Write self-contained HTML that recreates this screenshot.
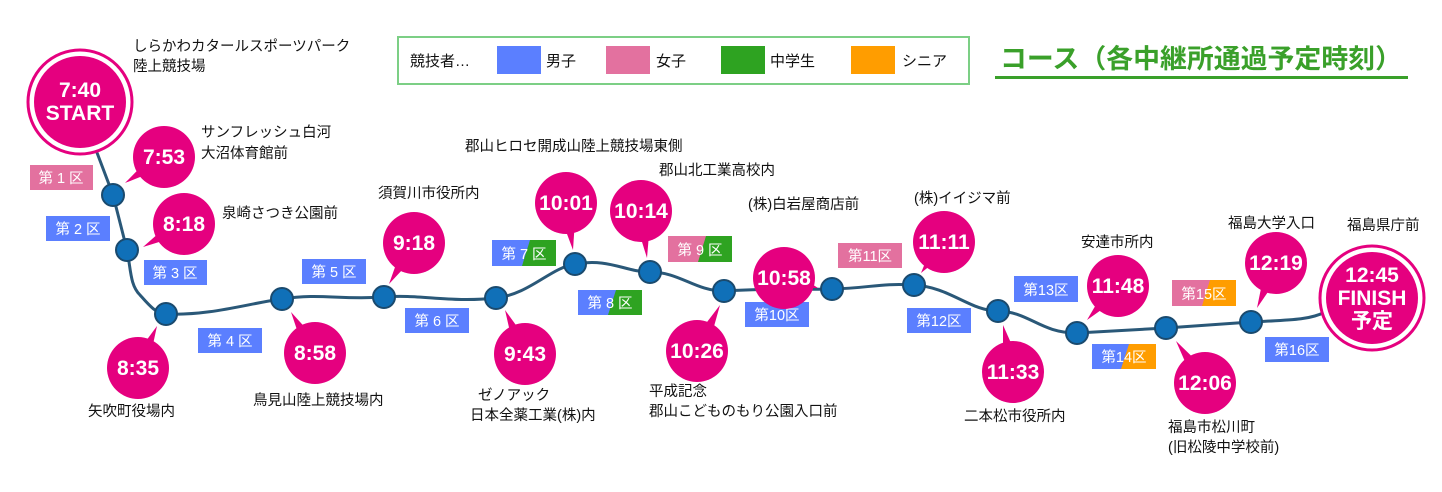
<!DOCTYPE html>
<html><head><meta charset="utf-8"><style>
html,body{margin:0;padding:0;background:#fff;}
svg{display:block;font-family:"Liberation Sans","Noto Sans CJK JP",sans-serif;}
.pl{font-size:14.5px;fill:#111;}
.bt{font-size:21px;font-weight:bold;fill:#fff;text-anchor:middle;}
.lt{font-size:14.5px;fill:#fff;text-anchor:middle;}
</style></head><body>
<svg width="1442" height="492" viewBox="0 0 1442 492" xmlns="http://www.w3.org/2000/svg">
<!-- legend -->
<rect x="398" y="37" width="571" height="47" fill="#fff" stroke="#7ccf85" stroke-width="2"/>
<text x="410" y="66" font-size="15" fill="#111">競技者…</text>
<rect x="497" y="46" width="44" height="28" fill="#5b7fff"/><text x="546" y="66" font-size="15" fill="#111">男子</text>
<rect x="606" y="46" width="44" height="28" fill="#e3719f"/><text x="656" y="66" font-size="15" fill="#111">女子</text>
<rect x="721" y="46" width="44" height="28" fill="#2ea321"/><text x="770" y="66" font-size="15" fill="#111">中学生</text>
<rect x="851" y="46" width="44" height="28" fill="#ff9d00"/><text x="902" y="66" font-size="15" fill="#111">シニア</text>
<text x="1000" y="68" font-size="26.5" font-weight="bold" fill="#3aa02a" textLength="402" lengthAdjust="spacingAndGlyphs">コース（各中継所通過予定時刻）</text>
<rect x="995" y="76" width="413" height="3" fill="#3aa02a"/>

<!-- route -->
<path d="M96,150 L113,195 L127,250 C131,270 130,285 140,295 C148,304 156,314 166,314 C210,316 250,303 282,299 C320,293 340,300 384,297 C420,294 450,303 496,298 C530,294 550,268 575,264 C610,258 625,272 650,272 C680,272 695,291 724,291 C770,288 790,290 832,289 C870,288 880,283 914,285 C950,287 970,311 998,311 C1030,312 1040,333 1077,333 L1166,328 L1251,322 C1290,320 1310,320 1325,312" fill="none" stroke="#2a5878" stroke-width="3"/>

<!-- section labels -->
<g>
<rect x="30" y="165" width="63" height="25" fill="#e3719f"/><text class="lt" x="61" y="183">第 1 区</text>
<rect x="46" y="216" width="64" height="25" fill="#5b7fff"/><text class="lt" x="78" y="234">第 2 区</text>
<rect x="144" y="260" width="63" height="25" fill="#5b7fff"/><text class="lt" x="175" y="278">第 3 区</text>
<rect x="198" y="328" width="64" height="25" fill="#5b7fff"/><text class="lt" x="230" y="346">第 4 区</text>
<rect x="302" y="259" width="64" height="25" fill="#5b7fff"/><text class="lt" x="334" y="277">第 5 区</text>
<rect x="405" y="308" width="64" height="25" fill="#5b7fff"/><text class="lt" x="437" y="326">第 6 区</text>
<rect x="492" y="240" width="64" height="26" fill="#5b7fff"/><polygon points="530,240 556,240 556,266 522,266" fill="#2ea321"/><text class="lt" x="524" y="259">第 7 区</text>
<rect x="578" y="290" width="64" height="25" fill="#5b7fff"/><polygon points="616,290 642,290 642,315 608,315" fill="#2ea321"/><text class="lt" x="610" y="308">第 8 区</text>
<rect x="668" y="236" width="64" height="26" fill="#e3719f"/><polygon points="706,236 732,236 732,262 698,262" fill="#2ea321"/><text class="lt" x="700" y="255">第 9 区</text>
<rect x="745" y="302" width="64" height="25" fill="#5b7fff"/><text class="lt" x="777" y="320">第10区</text>
<rect x="838" y="243" width="64" height="25" fill="#e3719f"/><text class="lt" x="870" y="261">第11区</text>
<rect x="907" y="308" width="64" height="25" fill="#5b7fff"/><text class="lt" x="939" y="326">第12区</text>
<rect x="1014" y="276" width="64" height="26" fill="#5b7fff"/><text class="lt" x="1046" y="295">第13区</text>
<rect x="1092" y="344" width="64" height="25" fill="#5b7fff"/><polygon points="1129,344 1156,344 1156,369 1121,369" fill="#ff9d00"/><text class="lt" x="1124" y="362">第14区</text>
<rect x="1172" y="280" width="64" height="26" fill="#e3719f"/><polygon points="1210,280 1236,280 1236,306 1202,306" fill="#ff9d00"/><text class="lt" x="1204" y="299">第15区</text>
<rect x="1265" y="337" width="64" height="25" fill="#5b7fff"/><text class="lt" x="1297" y="355">第16区</text>
</g>

<!-- nodes -->
<g fill="#1070b8" stroke="#1a4a6e" stroke-width="2">
<circle cx="113" cy="195" r="11"/><circle cx="127" cy="250" r="11"/><circle cx="166" cy="314" r="11"/>
<circle cx="282" cy="299" r="11"/><circle cx="384" cy="297" r="11"/><circle cx="496" cy="298" r="11"/>
<circle cx="575" cy="264" r="11"/><circle cx="650" cy="272" r="11"/><circle cx="724" cy="291" r="11"/>
<circle cx="832" cy="289" r="11"/><circle cx="914" cy="285" r="11"/><circle cx="998" cy="311" r="11"/>
<circle cx="1077" cy="333" r="11"/><circle cx="1166" cy="328" r="11"/><circle cx="1251" cy="322" r="11"/>
</g>

<!-- bubbles -->
<g fill="#e5007f">
<circle cx="164" cy="157" r="31"/><polygon points="169.5,165.3 158.5,148.7 125,183"/>
<circle cx="184" cy="224" r="31"/><polygon points="188.9,232.7 179.1,215.3 143,247"/>
<circle cx="138" cy="368" r="31"/><polygon points="147,372 129,364 157,326"/>
<circle cx="315" cy="353" r="31"/><polygon points="323.6,348 306.4,358 291,312"/>
<circle cx="414" cy="243" r="31"/><polygon points="422.5,248.2 405.5,237.8 389,284"/>
<circle cx="525" cy="354" r="31"/><polygon points="534,350 516,358 505,310"/>
<circle cx="566" cy="203" r="31"/><polygon points="576,205 558,210 573,250"/>
<circle cx="641" cy="211" r="31"/><polygon points="651,211 633,213 647,258"/>
<circle cx="697" cy="351" r="31"/><polygon points="706,355 688,347 720,305"/>
<circle cx="784" cy="278" r="31"/><polygon points="781,288 787,268 818,288"/>
<circle cx="944" cy="242" r="31"/><polygon points="952,248 936,236 921,273"/>
<circle cx="1013" cy="372" r="31"/><polygon points="1023,370 1003,374 1003,325"/>
<circle cx="1118" cy="286" r="31"/><polygon points="1125,293 1111,279 1087,320"/>
<circle cx="1205" cy="383" r="31"/><polygon points="1213,377 1197,389 1176,341"/>
<circle cx="1276" cy="263" r="31"/><polygon points="1285,267 1267,259 1257,308"/>
</g>
<text class="bt" x="164" y="164">7:53</text>
<text class="bt" x="184" y="231">8:18</text>
<text class="bt" x="138" y="375">8:35</text>
<text class="bt" x="315" y="360">8:58</text>
<text class="bt" x="414" y="250">9:18</text>
<text class="bt" x="525" y="361">9:43</text>
<text class="bt" x="566" y="210">10:01</text>
<text class="bt" x="641" y="218">10:14</text>
<text class="bt" x="697" y="358">10:26</text>
<text class="bt" x="784" y="285">10:58</text>
<text class="bt" x="944" y="249">11:11</text>
<text class="bt" x="1013" y="379">11:33</text>
<text class="bt" x="1118" y="293">11:48</text>
<text class="bt" x="1205" y="390">12:06</text>
<text class="bt" x="1276" y="270">12:19</text>

<!-- start / finish -->
<circle cx="80" cy="102" r="52" fill="#fff" stroke="#e5007f" stroke-width="3"/>
<circle cx="80" cy="102" r="46" fill="#e5007f"/>
<text class="bt" x="80" y="97">7:40</text>
<text class="bt" x="80" y="120">START</text>
<circle cx="1372" cy="298" r="52" fill="#fff" stroke="#e5007f" stroke-width="3"/>
<circle cx="1372" cy="298" r="46" fill="#e5007f"/>
<text class="bt" x="1372" y="282">12:45</text>
<text class="bt" x="1372" y="305">FINISH</text>
<text class="bt" x="1372" y="328">予定</text>

<!-- place names -->
<text class="pl" x="133" y="51">しらかわカタールスポーツパーク</text>
<text class="pl" x="133" y="71">陸上競技場</text>
<text class="pl" x="201" y="137">サンフレッシュ白河</text>
<text class="pl" x="201" y="158">大沼体育館前</text>
<text class="pl" x="222" y="218">泉崎さつき公園前</text>
<text class="pl" x="88" y="416">矢吹町役場内</text>
<text class="pl" x="253" y="405">鳥見山陸上競技場内</text>
<text class="pl" x="378" y="198">須賀川市役所内</text>
<text class="pl" x="478" y="400">ゼノアック</text>
<text class="pl" x="470" y="420">日本全薬工業(株)内</text>
<text class="pl" x="465" y="151">郡山ヒロセ開成山陸上競技場東側</text>
<text class="pl" x="659" y="175">郡山北工業高校内</text>
<text class="pl" x="748" y="209">(株)白岩屋商店前</text>
<text class="pl" x="649" y="396">平成記念</text>
<text class="pl" x="649" y="416">郡山こどものもり公園入口前</text>
<text class="pl" x="914" y="203">(株)イイジマ前</text>
<text class="pl" x="964" y="421">二本松市役所内</text>
<text class="pl" x="1081" y="247">安達市所内</text>
<text class="pl" x="1228" y="228">福島大学入口</text>
<text class="pl" x="1347" y="230">福島県庁前</text>
<text class="pl" x="1168" y="432">福島市松川町</text>
<text class="pl" x="1168" y="452">(旧松陵中学校前)</text>
</svg>
</body></html>
